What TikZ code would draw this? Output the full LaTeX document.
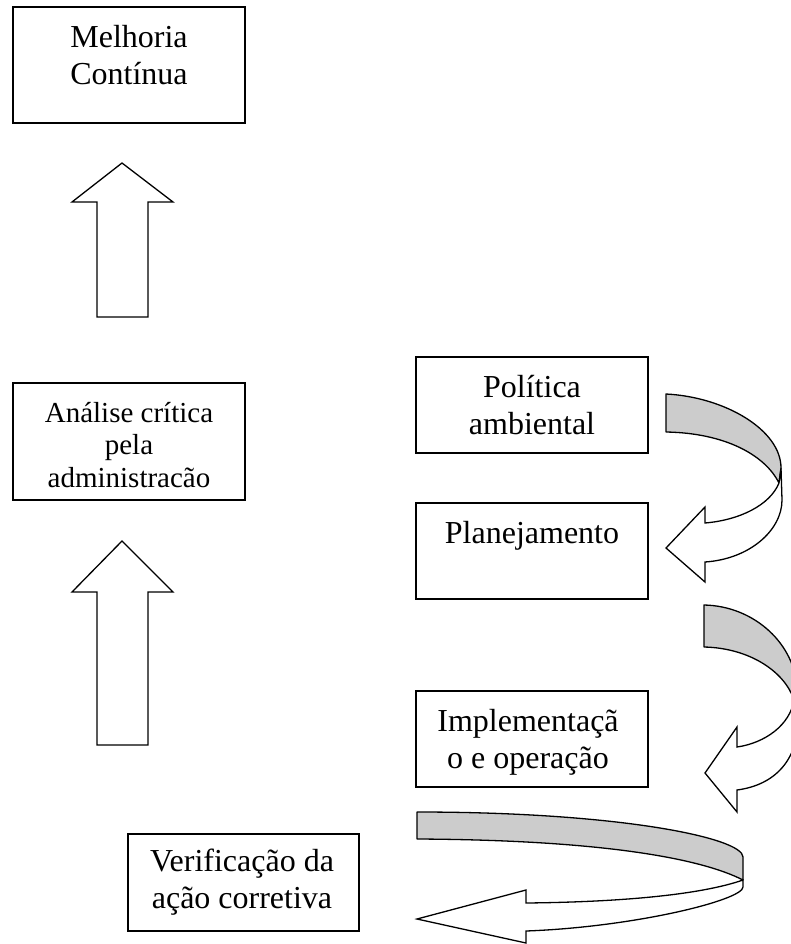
\documentclass[tikz,border=0pt]{standalone}
\usepackage{fontspec}
\setmainfont{Liberation Serif}
\definecolor{ribbon}{RGB}{204,204,204}
\tikzset{
  boxframe/.style={draw=black, line width=1.3pt, fill=white, inner sep=0pt},
  % multi-line texts are placed by the baseline of their last line
  boxtext/.style={anchor=base, align=center, inner sep=0pt,
                  font=\fontsize{32}{37}\selectfont},
  smalltext/.style={anchor=base, align=center, inner sep=0pt,
                  font=\fontsize{29}{32.5}\selectfont},
  hollow/.style={draw=black, line width=1.3pt, fill=white, line join=miter},
  backface/.style={draw=black, line width=1.3pt, fill=ribbon, line join=round},
}
\begin{document}
\begin{tikzpicture}[x=1pt,y=-1pt]
\useasboundingbox (0,0) rectangle (791,944);
\clip (0,0) rectangle (791,944);

% left column
\node[boxframe, minimum width=232, minimum height=116] (melhoria) at (129,65) {};
\node[boxtext] (melhoriaT) at (129,85) {Melhoria\\Contínua};

\node[boxframe, minimum width=232, minimum height=117] (analise) at (129,441.5) {};
\node[smalltext] (analiseT) at (129,487) {Análise crítica\\pela\\administracão};

% up arrows
\draw[hollow] (97,317) -- (97,202) -- (72,202) -- (122,163) -- (173,202)
  -- (148,202) -- (148,317) -- cycle;
\draw[hollow] (97,745) -- (97,592) -- (72,592) -- (122,541) -- (173,592)
  -- (148,592) -- (148,745) -- cycle;

% right column
\node[boxframe, minimum width=232, minimum height=96] (politica) at (532,405) {};
\node[boxtext] (politicaT) at (532,434) {Política\\ambiental};

\node[boxframe, minimum width=232, minimum height=96] (planej) at (532,551) {};
\node[boxtext] (planejT) at (532,543) {Planejamento};

\node[boxframe, minimum width=232, minimum height=96] (implem) at (532,739) {};
\node[boxtext] (implemT) at (528,768) {Implementaçã\\o e operação};

\node[boxframe, minimum width=231, minimum height=97] (verif) at (243.5,882.5) {};
\node[boxtext] (verifT) at (242,908) {Verificação da\\ação corretiva};

% curved ribbon arrow 1
\draw[backface] (666,394) .. controls (725,397) and (781,430) .. (781,468)
  -- (779,483) .. controls (765,455) and (725,433) .. (666,432) -- cycle;
\draw[hollow] (779,483) .. controls (770,505) and (740,520) .. (705,523)
  -- (705,507) -- (666,548) -- (705,582) -- (705,562)
  .. controls (750,559) and (782,530) .. (782,500) -- (781,468) -- cycle;

% curved ribbon arrow 2
\draw[backface] (704,605) .. controls (755,606) and (796,645) .. (797,690)
  -- (794,700) .. controls (785,672) and (750,648) .. (704,647) -- cycle;
\draw[hollow] (794,700) .. controls (790,725) and (765,743) .. (737,747)
  -- (737,727) -- (705,773) -- (737,812) -- (737,790)
  .. controls (775,785) and (798,760) .. (798,720) -- (797,690) -- cycle;

% curved ribbon arrow 3
\draw[backface] (417,812) .. controls (620,812) and (743,838) .. (743,857)
  -- (743,880) .. controls (700,858) and (600,840) .. (417,839) -- cycle;
\draw[hollow] (743,880) .. controls (700,895) and (620,902) .. (526,903)
  -- (526,890) -- (417,919) -- (526,943) -- (526,931)
  .. controls (635,927) and (743,900) .. (743,887) -- cycle;
\end{tikzpicture}
\end{document}
